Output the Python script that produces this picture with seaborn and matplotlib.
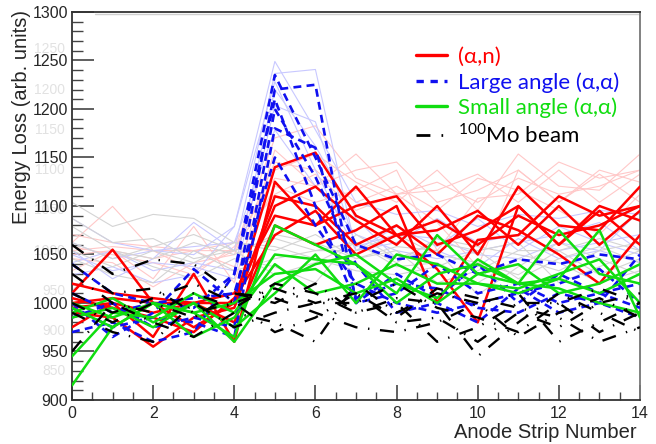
import numpy as np
import pandas as pd
import seaborn as sns
import matplotlib.pyplot as plt
from matplotlib.lines import Line2D

# strip numbers
strips = list(range(15))

# (alpha,n) tracks
alpha_n = [
    [1010, 1055, 1000, 1000, 1000, 1140, 1155, 1090, 1070, 1085, 1060, 1090, 1070, 1080, 1100],
    [975, 1000, 965, 1030, 960, 1125, 1080, 1100, 1110, 1060, 1075, 1100, 1060, 1095, 1060],
    [1000, 1005, 1000, 975, 1000, 1100, 1120, 1085, 1060, 1100, 1050, 1120, 1080, 1075, 1120],
    [1020, 1010, 1005, 1000, 1010, 1090, 1080, 1120, 1070, 1075, 1095, 1060, 1100, 1060, 1095],
    [990, 985, 955, 985, 995, 1110, 1100, 1060, 1080, 1050, 1090, 1075, 1050, 1020, 1070],
    [995, 1000, 990, 1000, 980, 1080, 1060, 1075, 1100, 1000, 1065, 1070, 1110, 1090, 1100],
    [1005, 995, 985, 970, 1005, 1070, 1095, 1050, 1070, 1035, 980, 1100, 1060, 1100, 1085],
]
# large angle (alpha,alpha)
large_angle = [
    [1040, 1010, 1000, 995, 1030, 1235, 1150, 1060, 1045, 1050, 1030, 1045, 1040, 1050, 1045],
    [1000, 965, 990, 1035, 1000, 1220, 1225, 1000, 1010, 1040, 1010, 1020, 1000, 1010, 1020],
    [970, 980, 960, 970, 1030, 1210, 1100, 1000, 1030, 1005, 1040, 1000, 1030, 1010, 995],
    [985, 1000, 975, 985, 975, 1200, 1130, 1040, 990, 1000, 980, 1015, 990, 1000, 1050],
    [1010, 990, 1000, 1005, 1010, 1150, 1080, 1020, 1000, 990, 1000, 1010, 1020, 1035, 1000],
    [995, 975, 985, 980, 965, 1180, 1160, 1005, 1020, 1015, 995, 990, 1010, 1000, 985],
]
# small angle (alpha,alpha)
small_angle = [
    [915, 975, 1000, 990, 965, 1080, 1060, 1040, 1010, 1070, 1030, 1020, 1025, 1075, 985],
    [945, 990, 985, 1010, 990, 1050, 1045, 1040, 1000, 1030, 1040, 1020, 1075, 1030, 1020],
    [995, 975, 1000, 965, 985, 1040, 1010, 1020, 1040, 1020, 1020, 1010, 1025, 1010, 1030],
    [990, 1005, 980, 1000, 975, 1010, 1050, 1000, 1050, 1040, 1020, 1015, 1030, 1045, 1000],
    [1000, 985, 1000, 990, 1000, 1030, 1035, 1010, 1025, 1000, 1030, 1040, 1010, 1020, 1040],
    [985, 995, 975, 1000, 960, 1020, 1040, 1050, 1020, 1005, 1045, 1020, 1015, 1000, 990],
]
# 100Mo beam
beam = [
    [1060, 1030, 1045, 1040, 1010, 1000, 1020, 990, 1000, 960, 975, 1000, 1000, 970, 990],
    [1040, 1010, 1015, 990, 1000, 1015, 1000, 1010, 980, 985, 960, 990, 975, 1000, 1010],
    [1030, 1000, 990, 1010, 995, 1020, 1010, 990, 1005, 1000, 945, 980, 1010, 990, 970],
    [950, 1000, 980, 965, 990, 980, 960, 1020, 990, 1010, 1000, 965, 990, 1005, 985],
    [1000, 980, 1000, 985, 1010, 1005, 990, 975, 970, 980, 1000, 1010, 960, 980, 1000],
    [990, 970, 960, 1000, 975, 990, 1000, 1000, 1020, 995, 985, 970, 1000, 1015, 1000],
    [1010, 990, 1005, 1020, 1000, 970, 985, 1010, 985, 1015, 1005, 995, 985, 960, 975],
]

labels = ["(α,n)", "Large angle (α,α)", "Small angle (α,α)", "$^{100}$Mo beam"]
colors = ["#ff0000", "#1010f0", "#10dd10", "#000000"]
ghost_colors = ["#ffc8c8", "#c8c8ff", None, "#d4d4d4"]
groups = [alpha_n, large_angle, small_angle, beam]

# long-form table
rows = []
for gi, grp in enumerate(groups):
    for ti, track in enumerate(grp):
        for s, e in zip(strips, track):
            rows.append({"group": gi, "track": ti, "strip": s, "energy": e})
df = pd.DataFrame(rows)

# faint overlay from a second scale (shifted copy)
df["ghost"] = 1137 + (df["energy"] - 1100) * 0.83

sns.set_style("ticks")
plt.rcParams["font.family"] = ["Liberation Sans", "DejaVu Sans"]
plt.rcParams["mathtext.fontset"] = "custom"
plt.rcParams["mathtext.rm"] = "Lato"

fig = plt.figure(figsize=(6.56, 4.44), dpi=100)
ax = fig.add_axes([72 / 656, 1 - 400 / 444, 568 / 656, 388 / 444])

for gi in [0, 1, 3]:
    sub = df[df["group"] == gi]
    sns.lineplot(data=sub, x="strip", y="ghost", units="track", estimator=None,
                 color=ghost_colors[gi], lw=0.8, ax=ax, legend=False, zorder=1)

styles = [
    dict(lw=1.8),
    dict(lw=1.9, dashes=(3, 2)),
    dict(lw=1.8),
    dict(lw=1.7, dashes=(6, 4.5, 0.6, 4.5)),
]
for gi in [0, 1, 2, 3]:
    sub = df[df["group"] == gi]
    before = len(ax.lines)
    sns.lineplot(data=sub, x="strip", y="energy", units="track", estimator=None,
                 color=colors[gi], lw=styles[gi]["lw"], ax=ax, legend=False,
                 zorder=3 + gi)
    if "dashes" in styles[gi]:
        for ln in ax.lines[before:]:
            ln.set_dashes(styles[gi]["dashes"])

ax.set_xlim(0, 14)
ax.set_ylim(900, 1300)
ax.set_xticks(range(0, 15, 2))
ax.set_xticks(np.arange(0, 14.01, 0.5), minor=True)
ax.set_yticks(range(900, 1301, 50))
ax.set_yticks(range(900, 1301, 10), minor=True)
ax.tick_params(axis="both", which="major", direction="in", labelsize=11.5, width=1.2, color="#444444")
ax.tick_params(axis="y", which="major", length=16, pad=3)
ax.tick_params(axis="y", which="minor", direction="in", length=8, width=1, color="#444444")
ax.tick_params(axis="x", which="major", length=11, pad=4)
ax.tick_params(axis="x", which="minor", direction="in", length=5.5, width=1, color="#444444")
ax.set_xlabel("")
ax.set_ylabel("")
for side in ["left", "bottom", "top"]:
    ax.spines[side].set_color("#333333")
    ax.spines[side].set_linewidth(1.3)
ax.spines["right"].set_color("#777777")
ax.spines["right"].set_linewidth(1.3)
ax.axhline(1297.5, xmin=0.04, xmax=1, color="#d0d0d0", lw=1, zorder=1)

# ghost axis labels from the overlay
for t in range(850, 1301, 50):
    yv = 1137 + (t - 1100) * 0.83
    if 900 <= yv <= 1300:
        ax.text(-0.012, yv, str(t), transform=ax.get_yaxis_transform(), ha="right",
                va="center", fontsize=10, color="#e2e2e2", zorder=0.5, clip_on=False)

fig.text(22 / 656, 1 - 10 / 444, "Energy Loss (arb. units)", rotation=90,
         ha="center", va="top", fontsize=14.5)
fig.text(637 / 656, 1 - 432 / 444, "Anode Strip Number", ha="right", va="center",
         fontsize=14.5)

handles = [
    Line2D([], [], color=colors[0], lw=2.4),
    Line2D([], [], color=colors[1], lw=2.4, dashes=(2.2, 2)),
    Line2D([], [], color=colors[2], lw=2.4),
    Line2D([], [], color=colors[3], lw=2.0, dashes=(5, 4, 0.6, 4)),
]
leg = ax.legend(handles, labels, loc="upper left", bbox_to_anchor=(0.574, 0.955),
                frameon=False, handlelength=1.4, handletextpad=0.5, labelspacing=0.22,
                borderpad=0.3, prop={"family": "Lato", "size": 16}, labelcolor=colors)

fig.savefig("out.png", dpi=100)
